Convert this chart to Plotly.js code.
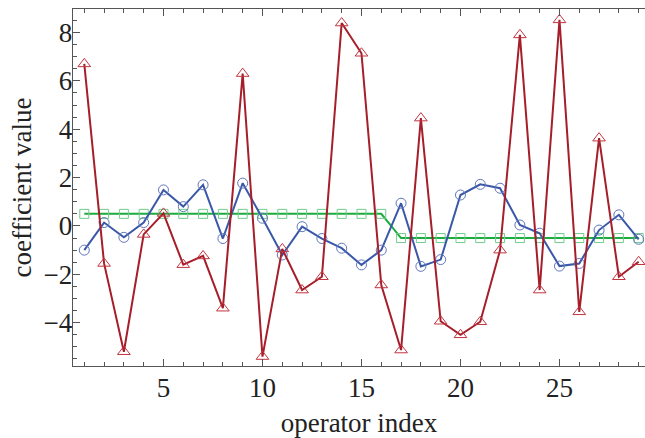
<!DOCTYPE html>
<html>
<head>
<meta charset="utf-8">
<script src="https://cdn.plot.ly/plotly-3.0.1.min.js"></script>
<style>html,body{margin:0;padding:0;overflow:hidden;background:#fff}#chart{width:645px;height:438px}</style>
</head>
<body>
<div id="chart"></div>
<script>
const operatorIndex = [1,2,3,4,5,6,7,8,9,10,11,12,13,14,15,16,17,18,19,20,21,22,23,24,25,26,27,28,29];
const redValues = [6.7,-1.55,-5.2,-0.35,0.52,-1.6,-1.24,-3.4,6.3,-5.4,-0.95,-2.65,-2.1,8.39,7.14,-2.44,-5.13,4.46,-3.94,-4.5,-3.96,-1.0,7.9,-2.65,8.52,-3.55,3.63,-2.1,-1.48];
const blueValues = [-1.0,0.14,-0.47,0.14,1.49,0.8,1.7,-0.52,1.77,0.32,-1.2,-0.03,-0.52,-0.92,-1.61,-1.0,0.94,-1.67,-1.39,1.28,1.72,1.56,0.04,-0.3,-1.66,-1.55,-0.17,0.46,-0.55];
const greenValues = [0.5,0.5,0.5,0.5,0.5,0.5,0.5,0.5,0.5,0.5,0.5,0.5,0.5,0.5,0.5,0.5,-0.5,-0.5,-0.5,-0.5,-0.5,-0.5,-0.5,-0.5,-0.5,-0.5,-0.5,-0.5,-0.5];
const xTicks = [5,10,15,20,25];
const yTicks = [-4,-2,0,2,4,6,8];

const fontFam = 'Liberation Serif, Times New Roman, serif';
const traces = [
  {x: operatorIndex, y: greenValues, mode: 'lines+markers', type: 'scatter',
   line: {color: '#1cab3e', width: 2},
   marker: {symbol: 'square-open', size: 9, color: '#72cc8c', line: {width: 1}}},
  {x: operatorIndex, y: blueValues, mode: 'lines+markers', type: 'scatter',
   line: {color: '#3a58a8', width: 2},
   marker: {symbol: 'circle-open', size: 10, color: '#6177bb', line: {width: 1}}},
  {x: operatorIndex, y: redValues, mode: 'lines+markers', type: 'scatter',
   line: {color: '#a61e2a', width: 2},
   marker: {symbol: 'triangle-up-open', size: 11, color: '#c2343f', line: {width: 1}}}
];

const layout = {
  width: 645, height: 438,
  margin: {l: 73, r: 0, t: 9, b: 72},
  showlegend: false,
  paper_bgcolor: '#fff', plot_bgcolor: '#fff',
  font: {family: fontFam, size: 26, color: '#222'},
  xaxis: {
    range: [0.43, 29.32], tickvals: xTicks, ticktext: xTicks.map(String),
    ticks: 'inside', ticklen: 7, tickcolor: '#555', tickwidth: 1,
    showline: true, linecolor: '#555', linewidth: 1.3, mirror: 'ticks',
    showgrid: false, zeroline: false,
    minor: {dtick: 1, tick0: 0, ticks: 'inside', ticklen: 4, tickcolor: '#555', showgrid: false},
    tickfont: {family: fontFam, size: 27, color: '#222'},
    ticklabelstandoff: -3,
    title: {text: 'operator index', font: {family: fontFam, size: 27, color: '#222'}, standoff: 14}
  },
  yaxis: {
    range: [-5.79, 8.97], tickvals: yTicks, ticktext: yTicks.map(v => v < 0 ? '\u2212' + Math.abs(v) : String(v)),
    ticks: 'inside', ticklen: 7, tickcolor: '#555', tickwidth: 1,
    showline: true, linecolor: '#555', linewidth: 1.3,
    showgrid: false, zeroline: false,
    minor: {dtick: 0.5, tick0: 0, ticks: 'inside', ticklen: 4, tickcolor: '#555', showgrid: false},
    tickfont: {family: fontFam, size: 27, color: '#222'},
    ticklabelstandoff: -6,
    title: {text: 'coefficient value', font: {family: fontFam, size: 27, color: '#222'}, standoff: 4}
  }
};
Plotly.newPlot('chart', traces, layout, {displayModeBar: false, staticPlot: true});
</script>
</body>
</html>
